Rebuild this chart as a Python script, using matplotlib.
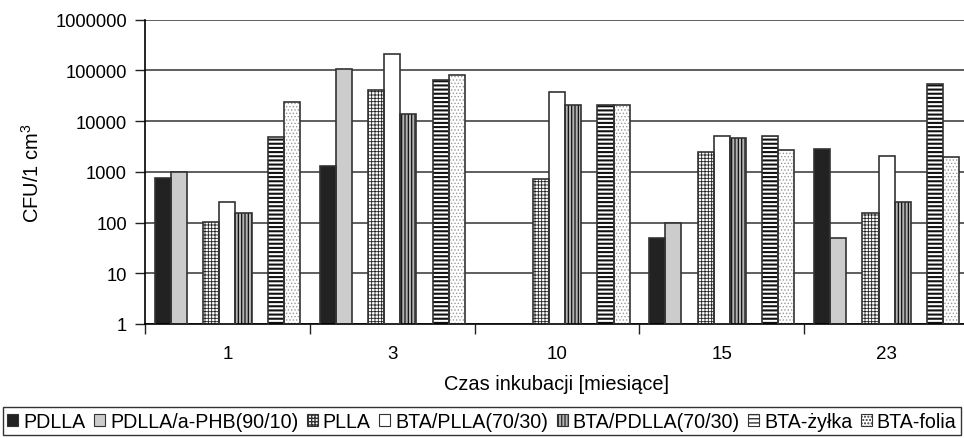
import numpy as np
import matplotlib
matplotlib.use("Agg")
import matplotlib.pyplot as plt
from matplotlib.patches import Patch

plt.rcParams['font.family'] = ['Liberation Sans', 'DejaVu Sans']
plt.rcParams['mathtext.fontset'] = 'custom'
plt.rcParams['mathtext.rm'] = 'Liberation Sans'

# dane (0 = brak słupka)
miesiace = ['1', '3', '10', '15', '23']
serie = ['PDLLA', 'PDLLA/a-PHB(90/10)', '', 'PLLA', 'BTA/PLLA(70/30)',
         'BTA/PDLLA(70/30)', '', 'BTA-żyłka', 'BTA-folia']
pdlla = [770, 1330, 0, 50, 2800]
pdlla_phb = [980, 106000, 0, 100, 49]
pusta = [0, 0, 0, 0, 0]
plla = [103, 41000, 720, 2450, 157]
bta_plla = [250, 207000, 37000, 5100, 2100]
bta_pdlla = [153, 13800, 21000, 4700, 250]
bta_zylka = [4800, 66000, 21000, 5100, 55000]
bta_folia = [24000, 80000, 20500, 2660, 2000]
y_ticks = [1, 10, 100, 1000, 10000, 100000, 1000000]
y_labels = ['1', '10', '100', '1000', '10000', '100000', '1000000']

wartosci = [pdlla, pdlla_phb, pusta, plla, bta_plla, bta_pdlla, pusta, bta_zylka, bta_folia]
# styl: (kolor wypełnienia, hatch, kolor hatcha, grubość hatcha)
style = [('#222222', None, '#222222', 0.5),
         ('#cccccc', None, '#333333', 0.5),
         ('white', None, '#333333', 0.5),
         ('white', '+++++', '#222222', 0.6),
         ('white', None, '#333333', 0.5),
         ('#b4b4b4', '|||||', '#111111', 0.9),
         ('white', None, '#333333', 0.5),
         ('white', '----', '#111111', 1.5),
         ('white', '.....', '#999999', 0.6)]

fig = plt.figure(figsize=(9.64, 4.39), dpi=100)
ax = fig.add_axes([145/964, 114/439, 824/964, 304.3/439])

x = np.arange(len(miesiace))
w = 0.098
n = len(wartosci)
for i, (vals, st) in enumerate(zip(wartosci, style)):
    pos = x + (i - (n - 1) / 2) * w
    h = [v if v > 0 else np.nan for v in vals]
    fc, hatch, hc, hlw = st
    bars = ax.bar(pos, h, width=w, bottom=0, color=fc, hatch=hatch,
                  edgecolor=hc, linewidth=0, zorder=2, log=True)
    for b in bars:
        if hasattr(b, 'set_hatch_linewidth'):
            b.set_hatch_linewidth(hlw)
    # obramowanie słupków
    ax.bar(pos, h, width=w, bottom=0, fill=False, edgecolor='#333333',
           linewidth=1.2, zorder=3, log=True)

ax.set_yscale('log')
ax.set_ylim(1, 1000000)
ax.set_xlim(-0.5, len(miesiace) - 0.5)
ax.set_yticks(y_ticks)
ax.set_yticklabels(y_labels, fontsize=13.2)
ax.yaxis.set_minor_locator(matplotlib.ticker.NullLocator())
ax.tick_params(axis='y', length=7, width=1, color='#222222', pad=6)
ax.grid(axis='y', color='#333333', linewidth=1.1, zorder=0)
ax.set_axisbelow(True)

ax.set_xticks(x)
ax.set_xticklabels(miesiace, fontsize=13.5)
ax.tick_params(axis='x', which='major', length=0, pad=15)
ax.set_xticks(np.arange(len(miesiace) + 1) - 0.5, minor=True)
ax.tick_params(axis='x', which='minor', length=7, width=1, color='#222222')

for s in ['top', 'right']:
    ax.spines[s].set_visible(False)
ax.spines['left'].set_linewidth(1.2)
ax.spines['bottom'].set_linewidth(1.2)

ax.set_ylabel('CFU/1 cm$^3$', fontsize=14.5, labelpad=9)
ax.set_xlabel('Czas inkubacji [miesiące]', fontsize=14.4, labelpad=9)

uchwyty = []
etykiety = []
for nazwa, st in zip(serie, style):
    if nazwa == '':
        continue
    fc, hatch, hc, hlw = st
    uchwyty.append(Patch(facecolor=fc, hatch=hatch, edgecolor='#333333', linewidth=0.8))
    etykiety.append(nazwa)

leg = fig.legend(uchwyty, etykiety, loc='lower center', bbox_to_anchor=(0.5, 0.0),
                 ncol=7, fontsize=14.1, frameon=True, fancybox=False,
                 edgecolor='black', handlelength=0.55, handleheight=0.55,
                 handletextpad=0.25, columnspacing=0.45, borderpad=0.22,
                 borderaxespad=0.15)
leg.get_frame().set_linewidth(1.0)

plt.savefig('out.png', dpi=100)
